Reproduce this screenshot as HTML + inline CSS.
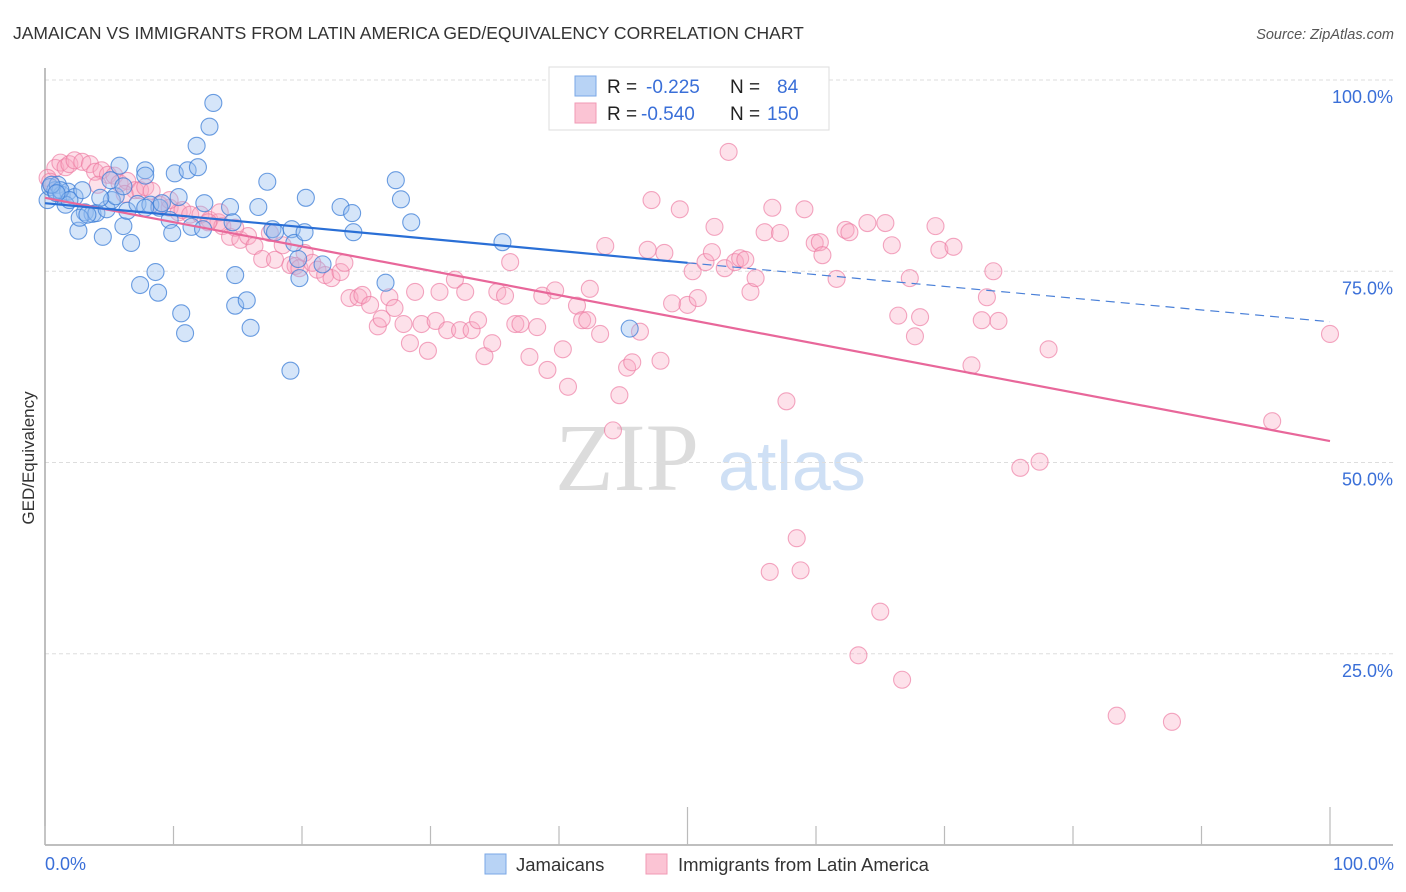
<!DOCTYPE html>
<html><head><meta charset="utf-8"><style>
body{margin:0;background:#fff;font-family:"Liberation Sans",sans-serif;}
svg{display:block}
</style></head><body>
<svg id="chart" width="1406" height="892" xmlns="http://www.w3.org/2000/svg">
<text x="13" y="39" font-size="17.5" fill="#333">JAMAICAN VS IMMIGRANTS FROM LATIN AMERICA GED/EQUIVALENCY CORRELATION CHART</text>
<text x="1394" y="39" font-size="14.5" fill="#555" font-style="italic" text-anchor="end">Source: ZipAtlas.com</text>
<g>
<text x="555" y="490" font-size="96" font-family="Liberation Serif,serif" fill="#dcdcdc">ZIP</text>
<text x="718" y="490" font-size="70" fill="#cfe0f5">atlas</text>
</g>
<g id="grid"></g>
<g id="axes"></g>
<g id="pink"></g>
<g id="blue"></g>
<g id="trends"></g>
<text transform="translate(34,458) rotate(-90)" font-size="17" fill="#333" text-anchor="middle">GED/Equivalency</text>
<g>
<rect x="549" y="67" width="280" height="63" fill="#fff" stroke="#ddd"/>
<rect x="575" y="76" width="21" height="20" fill="#b8d3f5" stroke="#7aa7e6"/>
<rect x="575" y="103" width="21" height="20" fill="#fbc4d4" stroke="#f09ab5"/>
<text x="607" y="93" font-size="19" fill="#222">R =</text>
<text x="646" y="93" font-size="19" fill="#3a6fd8">-0.225</text>
<text x="730" y="93" font-size="19" fill="#222">N =</text>
<text x="777" y="93" font-size="19" fill="#3a6fd8">84</text>
<text x="607" y="120" font-size="19" fill="#222">R =</text>
<text x="641" y="120" font-size="19" fill="#3a6fd8">-0.540</text>
<text x="730" y="120" font-size="19" fill="#222">N =</text>
<text x="767" y="120" font-size="19" fill="#3a6fd8">150</text>
</g>
<g>
<rect x="485" y="854" width="21" height="20" fill="#b8d3f5" stroke="#7aa7e6"/>
<text x="516" y="871" font-size="18.5" fill="#333">Jamaicans</text>
<rect x="646" y="854" width="21" height="20" fill="#fbc4d4" stroke="#f09ab5"/>
<text x="678" y="871" font-size="18.5" fill="#333">Immigrants from Latin America</text>
</g>
</svg>
<script>
const xTicks=[0,10,20,30,40,50,60,70,80,90,100];
const yTicks=[25,50,75,100];
const yTickLabels=["25.0%","50.0%","75.0%","100.0%"];
const xEndLabels=["0.0%","100.0%"];
const blueX=[0.2,0.4,0.8,1.0,1.3,1.8,2.3,2.9,3.1,3.7,4.0,2.6,4.5,4.8,5.2,5.5,5.8,6.1,6.4,6.7,5.1,7.2,7.4,7.8,7.8,8.2,8.6,8.8,8.9,9.1,9.7,9.9,10.1,10.4,10.6,10.9,11.1,11.4,11.8,11.9,12.4,12.8,13.1,12.3,14.4,14.6,14.8,14.8,15.7,16.0,16.6,17.3,17.7,17.9,19.1,19.2,19.4,19.7,19.8,20.2,20.3,21.6,23.0,23.9,24.0,26.5,27.3,27.7,28.5,35.6,42.6,45.5,7.8,6.1,4.3,1.6,1.2,0.5,2.7,3.3,1.9,0.9];
const blueY=[84.3,86.0,85.6,86.3,85.0,85.4,84.7,85.6,82.7,82.5,82.6,80.3,79.5,83.1,84.3,84.8,88.8,80.9,82.9,78.7,86.9,83.8,73.2,88.2,87.5,83.7,74.9,72.2,83.3,83.9,81.7,80.0,87.8,84.7,69.5,66.9,88.2,80.8,91.4,88.6,83.9,93.9,97.0,80.5,83.4,81.4,74.5,70.5,71.2,67.6,83.4,86.7,80.5,80.1,62.0,80.5,78.7,76.6,74.1,80.1,84.6,75.9,83.4,82.6,80.1,73.5,86.9,84.4,81.4,78.8,94.6,67.5,83.3,86.1,84.6,83.7,85.6,86.3,82.0,82.4,84.3,85.2];
const pinkX=[0.8,1.2,1.6,1.9,2.3,2.9,3.5,3.9,4.4,4.9,5.4,5.8,6.4,7.0,7.4,7.8,8.3,8.9,9.7,10.4,10.7,11.3,12.1,12.8,13.5,13.8,14.4,15.2,15.8,16.3,16.9,17.5,17.9,18.5,19.1,19.5,19.8,20.2,20.8,21.2,21.8,22.3,23.0,23.3,23.7,24.4,24.7,25.3,25.9,26.2,26.8,27.2,27.9,28.4,28.8,29.3,29.8,30.4,30.7,31.3,31.9,32.3,32.7,33.2,33.7,34.2,34.8,35.2,35.8,36.2,36.6,37.0,37.7,38.3,38.7,39.1,39.7,40.3,40.7,41.4,41.8,42.2,42.4,43.2,43.6,44.2,44.7,45.3,45.7,46.3,46.9,47.2,47.9,48.2,48.8,49.4,50.0,50.4,50.8,51.4,51.9,52.1,52.9,53.2,53.7,54.1,54.5,54.9,55.3,56.0,56.6,57.2,57.7,58.5,58.8,59.1,59.9,60.3,60.5,61.6,62.3,62.6,63.3,64.0,65.0,65.4,65.9,66.4,66.7,67.3,67.7,68.1,69.3,69.6,70.7,72.1,72.9,73.3,73.8,74.2,75.9,77.4,78.1,83.4,87.7,95.5,100.0,9.7,13.6,12.7,14.8,4.1,6.2,0.2,0.4,56.4];
const pinkY=[88.5,89.2,88.6,89.0,89.5,89.3,89.0,88.0,88.2,87.6,87.5,86.5,86.8,85.6,85.6,86.0,85.5,83.7,83.3,82.7,83.0,82.4,82.4,81.7,81.4,80.9,79.5,79.1,79.6,78.3,76.6,80.0,76.5,78.4,75.8,75.7,75.4,77.4,76.1,75.2,74.5,74.1,74.9,76.1,71.5,71.6,71.9,70.6,67.8,68.8,71.6,70.2,68.1,65.6,72.3,68.1,64.6,68.5,72.3,67.3,73.9,67.3,72.3,67.3,68.6,63.9,65.6,72.3,71.8,76.2,68.1,68.1,63.8,67.7,71.8,62.1,72.5,64.8,59.9,70.5,68.6,68.6,72.7,66.8,78.3,54.2,58.8,62.4,63.1,67.1,77.8,84.3,63.3,77.4,70.8,83.1,70.6,75.0,71.5,76.2,77.5,80.8,75.4,90.6,76.2,76.7,76.5,72.3,74.1,80.1,83.3,80.0,58.0,40.1,35.9,83.1,78.7,78.8,77.1,74.0,80.4,80.1,24.8,81.3,30.5,81.3,78.4,69.2,21.6,74.1,66.5,69.0,80.9,77.8,78.2,62.7,68.6,71.6,75.0,68.5,49.3,50.1,64.8,16.9,16.1,55.4,66.8,84.3,82.7,81.4,80.7,86.3,85.1,87.2,86.7,35.7];
const blueTrend=[83.9,76.1,68.4]; // at x=0,50,100
const pinkTrend=[84.6,52.8];      // at x=0,100
const NS="http://www.w3.org/2000/svg";
const X0=45,X1=1330,YB=845,YT=80;
function sx(v){return X0+(X1-X0)*v/100;}
function sy(v){return YB-(YB-YT)*v/100;}
function mk(tag,attrs,parent){const e=document.createElementNS(NS,tag);for(const k in attrs)e.setAttribute(k,attrs[k]);parent.appendChild(e);return e;}
const grid=document.getElementById('grid'),axes=document.getElementById('axes');
yTicks.forEach((t,i)=>{
  const l=mk('line',{x1:X0,x2:1393,y1:sy(t),y2:sy(t),stroke:'#ddd','stroke-dasharray':'4,3'},grid);
  
  
  const tx=mk('text',{x:1393,y:sy(t)+23,'font-size':18,fill:'#3a6fd8','text-anchor':'end'},axes);
  tx.textContent=yTickLabels[i];
  
  
});
const ax=mk('line',{x1:X0,x2:1393,y1:YB,y2:YB,stroke:'#aaa','stroke-width':1.5},axes);


const ay=mk('line',{x1:X0,x2:X0,y1:68,y2:YB,stroke:'#aaa','stroke-width':1.5},axes);


xTicks.forEach(t=>{
  const len=(t===50||t===100)?38:19;
  const l=mk('line',{x1:sx(t),x2:sx(t),y1:YB,y2:YB-len,stroke:'#bbb','stroke-width':1.2},axes);
  
  
});
[0,100].forEach((t,i)=>{
  const tx=mk('text',{x:i?1394:45,y:870,'font-size':18,fill:'#3a6fd8','text-anchor':i?'end':'start'},axes);
  tx.textContent=xEndLabels[i];
  
  
});
const pg=document.getElementById('pink');
pinkX.forEach((v,i)=>{
  const c=mk('circle',{cx:sx(v),cy:sy(pinkY[i]),r:8.5,fill:'rgba(248,170,195,0.35)',stroke:'rgba(236,120,160,0.65)','stroke-width':1.1},pg);
  
  
});
const bg=document.getElementById('blue');
blueX.forEach((v,i)=>{
  const c=mk('circle',{cx:sx(v),cy:sy(blueY[i]),r:8.5,fill:'rgba(150,190,240,0.4)',stroke:'rgba(60,125,215,0.75)','stroke-width':1.1},bg);
  
  
});
const tg=document.getElementById('trends');
const pl=mk('line',{x1:sx(0),y1:sy(pinkTrend[0]),x2:sx(100),y2:sy(pinkTrend[1]),stroke:'#e8679a','stroke-width':2.2},tg);


const bl=mk('line',{x1:sx(0),y1:sy(blueTrend[0]),x2:sx(50),y2:sy(blueTrend[1]),stroke:'#2a6fd6','stroke-width':2.2},tg);


const bd=mk('line',{x1:sx(50),y1:sy(blueTrend[1]),x2:sx(100),y2:sy(blueTrend[2]),stroke:'#4a80d8','stroke-width':1.2,'stroke-dasharray':'9,6'},tg);


</script>
</body></html>
